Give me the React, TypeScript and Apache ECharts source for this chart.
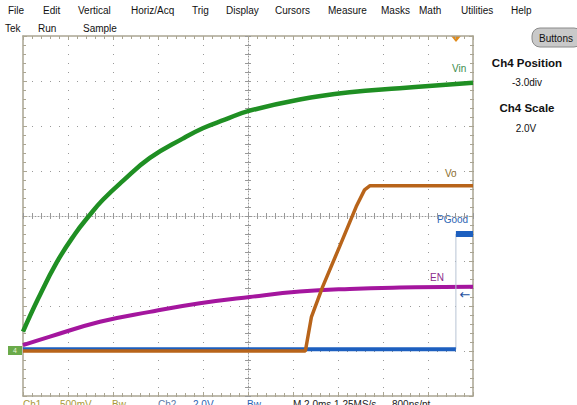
import React, { useEffect, useRef } from "react";
import * as echarts from "echarts";

// Time in ms (2.0 ms/div, 10 divisions), amplitude in screen divisions
const vinT = [-10, -9.33, -8.49, -7.69, -7.07, -6.45, -5.56, -4.36, -2.9, -2.01, -1.03, 0, 2.3, 4.52, 6.74, 10];
const vinV = [-2.57, -1.84, -1.02, -0.4, 0, 0.36, 0.78, 1.29, 1.72, 1.95, 2.14, 2.33, 2.59, 2.75, 2.84, 2.96];

const enT = [-10, -8.8, -6.58, -4.36, -2.14, 0.08, 2.3, 4.52, 6.74, 10];
const enV = [-2.87, -2.68, -2.35, -2.13, -1.94, -1.8, -1.68, -1.62, -1.59, -1.57];

const voT = [-10, 2.55, 2.82, 3.32, 4.07, 4.81, 5.18, 5.41, 10];
const voV = [-3.0, -3.0, -2.24, -1.57, -0.68, 0.21, 0.58, 0.67, 0.67];

const pgLowT = [-10, 9.24];
const pgLowV = [-2.96, -2.96];
const pgHighT = [9.24, 10];
const pgHighV = [-0.4, -0.4];

const menuItems = ["File", "Edit", "Vertical", "Horiz/Acq", "Trig", "Display", "Cursors", "Measure", "Masks", "Math", "Utilities", "Help"];
const statusItems = ["Tek", "Run", "Sample"];
const bottomItems = ["Ch1", "500mV", "Bw", "Ch2", "2.0V", "Bw", "M 2.0ms 1.25MS/s", "800ns/pt"];

// layout (pixels) for decorations
const menuX = [8, 43, 78, 131, 192, 226, 275, 328, 381, 419, 461, 511];
const statusX = [5, 38, 83];
const bottomX = [23, 60, 112, 158, 193, 247, 293, 392];
const bottomColors = ["#a89a3a", "#a89a3a", "#a89a3a", "#5a7aa8", "#2c64b4", "#2c64b4", "#222", "#222"];

const FONT = "'Liberation Sans', Arial, sans-serif";
const BORDER = "#aaa592";
const DOT = "#999999";

const zip = (a: number[], b: number[]) => a.map((v, i) => [v, b[i]]);

function borderAxis(pos: string, min: number, max: number, interval: number) {
  return {
    type: "value",
    min,
    max,
    interval,
    position: pos,
    axisLine: { show: true, onZero: false, lineStyle: { color: BORDER, width: 1.5 } },
    axisTick: { show: true, inside: true, length: 4, lineStyle: { color: BORDER } },
    minorTick: { show: true, splitNumber: 5, length: 3, lineStyle: { color: BORDER } },
    axisLabel: { show: false },
    splitLine: { show: false },
  };
}

function centerAxis(pos: string, min: number, max: number, interval: number, inside: boolean, showLine: boolean) {
  return {
    type: "value",
    min,
    max,
    interval,
    position: pos,
    axisLine: { show: showLine, onZero: true, onZeroAxisIndex: 0, lineStyle: { color: DOT, width: 1, type: [1, 2] } },
    axisTick: { show: true, inside, length: 3, lineStyle: { color: DOT } },
    minorTick: { show: true, splitNumber: 5, length: 3, lineStyle: { color: DOT } },
    axisLabel: { show: false },
    splitLine: { show: false },
  };
}

export default function App() {
  const ref = useRef<HTMLDivElement>(null);
  useEffect(() => {
    if (!ref.current) return;
    const chart = echarts.init(ref.current, null, { renderer: "svg" });
    const graphics: any[] = [];
    menuItems.forEach((t, i) =>
      graphics.push({ type: "text", left: menuX[i], top: 5, style: { text: t, font: `10px ${FONT}`, fill: "#111" } })
    );
    statusItems.forEach((t, i) =>
      graphics.push({ type: "text", left: statusX[i], top: 23, style: { text: t, font: `10px ${FONT}`, fill: "#111" } })
    );
    bottomItems.forEach((t, i) =>
      graphics.push({ type: "text", left: bottomX[i], top: 399, style: { text: t, font: `10px ${FONT}`, fill: bottomColors[i] } })
    );
    // Buttons
    graphics.push({
      type: "rect",
      shape: { x: 532, y: 28, width: 50, height: 19, r: 8 },
      style: { fill: "#c9c9c9", stroke: "#8a8a8a", lineWidth: 1 },
    });
    graphics.push({ type: "text", x: 556, y: 38, style: { text: "Buttons", font: `10px ${FONT}`, fill: "#111", align: "center", verticalAlign: "middle" } });
    // right panel
    const panel = [
      ["Ch4 Position", 527, 63, true],
      ["-3.0div", 527, 82, false],
      ["Ch4 Scale", 527, 108, true],
      ["2.0V", 526, 128, false],
    ];
    panel.forEach(([t, x, y, b]) =>
      graphics.push({
        type: "text",
        x,
        y,
        style: {
          text: t,
          font: b ? `bold 11.5px ${FONT}` : `10px ${FONT}`,
          fill: "#111",
          align: "center",
          verticalAlign: "middle",
        },
      })
    );
    // channel labels
    const labels = [
      ["Vin", 452, 68, "#3c8c4c"],
      ["Vo", 445, 173, "#8c6c2c"],
      ["PGood", 437, 219, "#2c64b4"],
      ["EN", 430, 277, "#8c2c8c"],
    ];
    labels.forEach(([t, x, y, c]) =>
      graphics.push({ type: "text", x, y, style: { text: t, font: `10px ${FONT}`, fill: c, verticalAlign: "middle" } })
    );
    // trigger marker
    graphics.push({ type: "polygon", shape: { points: [[451, 36], [461, 36], [456, 42]] }, style: { fill: "#e08a1a" } });
    // ground marker
    graphics.push({ type: "rect", shape: { x: 8, y: 346, width: 14, height: 9 }, style: { fill: "#6aaa4a" } });
    graphics.push({ type: "text", x: 15, y: 350.5, style: { text: "4", font: `7px ${FONT}`, fill: "#e8f4d8", align: "center", verticalAlign: "middle" } });
    // right arrow
    graphics.push({ type: "text", x: 465, y: 294, style: { text: "←", font: `13px 'DejaVu Sans'`, fill: "#1d4f9f", align: "center", verticalAlign: "middle" } });

    const xMin = -10, xMax = 10, xInt = 2;
    const yMin = -4, yMax = 4, yInt = 1;
    const xMain: any = borderAxis("bottom", xMin, xMax, xInt);
    xMain.splitLine = { show: true, lineStyle: { color: DOT, width: 1, type: [1, 8] } };
    const yMain: any = borderAxis("left", yMin, yMax, yInt);
    yMain.splitLine = { show: true, lineStyle: { color: DOT, width: 1, type: [1, 8] } };

    chart.setOption({
      animation: false,
      backgroundColor: "#ffffff",
      grid: { left: 23, top: 36, width: 450, height: 360 },
      xAxis: [
        xMain,
        borderAxis("top", xMin, xMax, xInt),
        centerAxis("bottom", xMin, xMax, xInt, true, true),
        centerAxis("bottom", xMin, xMax, xInt, false, false),
      ],
      yAxis: [
        yMain,
        borderAxis("right", yMin, yMax, yInt),
        centerAxis("left", yMin, yMax, yInt, true, true),
        centerAxis("left", yMin, yMax, yInt, false, false),
      ],
      series: [
        {
          name: "Vin",
          type: "line",
          data: zip(vinT, vinV),
          smooth: 0.45,
          symbol: "none",
          lineStyle: { color: "#1f8f23", width: 4.5 },
        },
        {
          name: "EN",
          type: "line",
          data: zip(enT, enV),
          smooth: 0.45,
          symbol: "none",
          lineStyle: { color: "#a4169e", width: 4 },
        },
        {
          name: "PGood edge",
          type: "line",
          data: [[pgLowT[1], pgLowV[1]], [pgHighT[0], pgHighV[0]]],
          symbol: "none",
          lineStyle: { color: "#b8c4d4", width: 1 },
        },
        {
          name: "PGood",
          type: "line",
          data: zip(pgLowT, pgLowV),
          symbol: "none",
          lineStyle: { color: "#1d5fbf", width: 4 },
        },
        {
          name: "PGood high",
          type: "line",
          data: zip(pgHighT, pgHighV),
          symbol: "none",
          lineStyle: { color: "#1d5fbf", width: 6 },
        },
        {
          name: "Vo",
          type: "line",
          data: zip(voT, voV),
          symbol: "none",
          lineStyle: { color: "#b8641a", width: 3.5 },
        },
      ],
      graphic: graphics,
    });
    return () => chart.dispose();
  }, []);
  return <div ref={ref} style={{ position: "fixed", left: 0, top: 0, width: 577, height: 405 }} />;
}
